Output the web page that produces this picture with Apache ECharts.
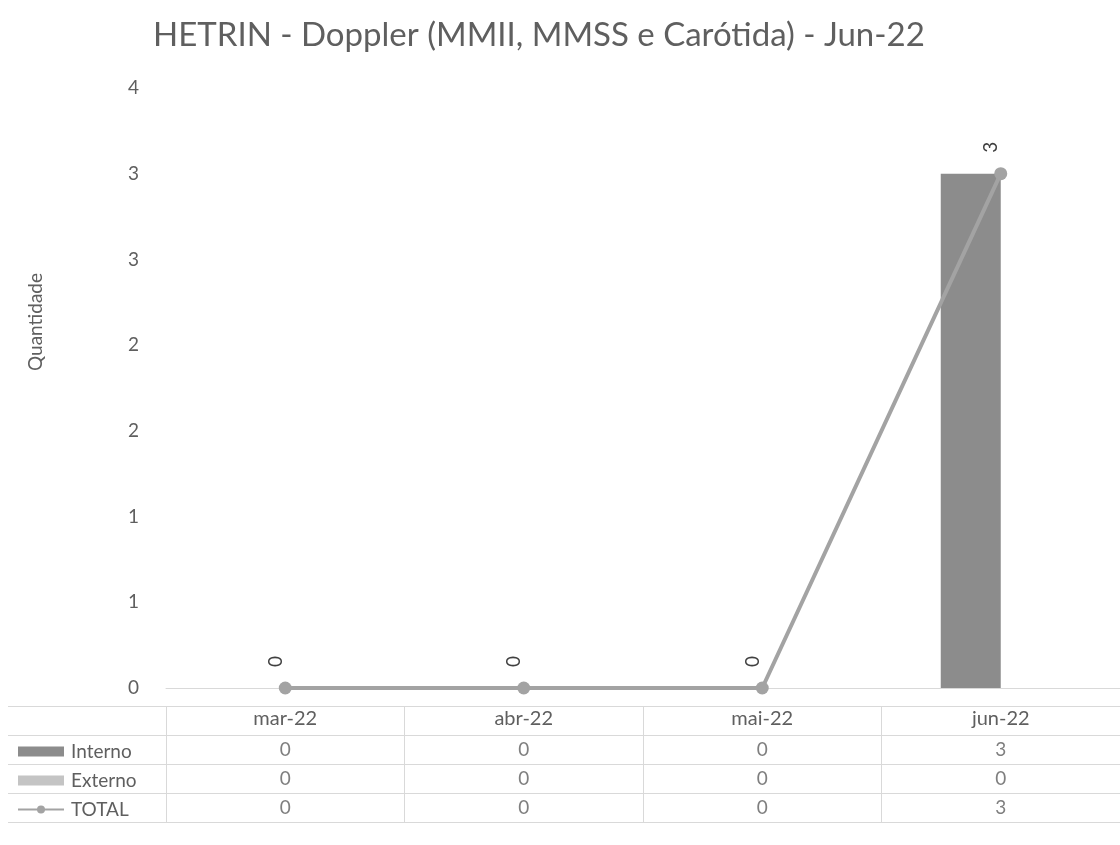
<!DOCTYPE html>
<html>
<head>
<meta charset="utf-8">
<script src="https://cdn.jsdelivr.net/npm/echarts@6/dist/echarts.min.js"></script>
<style>html,body{margin:0;padding:0;background:#fff;}#c{width:1120px;height:845px;}</style>
</head>
<body>
<div id="c"></div>
<script>
const titleText = 'HETRIN - Doppler (MMII, MMSS e Carótida) - Jun-22';
const categories = ['mar-22', 'abr-22', 'mai-22', 'jun-22'];
const interno = [0, 0, 0, 3];
const externo = [0, 0, 0, 0];
const total = [0, 0, 0, 3];
const seriesNames = ['Interno', 'Externo', 'TOTAL'];
const tableRows = [interno, externo, total];

const FONT = 'Lato';
const TXT = '#5f5f5f';

const tableData = [];
tableRows.forEach((row, r) => {
  row.forEach((v, i) => tableData.push([i, r + 1, v]));
});

const chart = echarts.init(document.getElementById('c'));
chart.setOption({
  backgroundColor: '#ffffff',
  animation: false,
  textStyle: { fontFamily: FONT },
  title: {
    text: titleText, left: 148, top: 14,
    textStyle: { fontFamily: FONT, fontSize: 33, fontWeight: 'normal', color: TXT }
  },
  legend: {
    data: [
      { name: seriesNames[0], icon: 'rect' },
      { name: seriesNames[1], icon: 'rect' },
      { name: seriesNames[2] }
    ],
    orient: 'vertical', left: 12, top: 737,
    itemWidth: 46, itemHeight: 10, itemGap: 10,
    textStyle: { fontFamily: FONT, fontSize: 19, lineHeight: 19, color: TXT, padding: [0, 0, 0, 2] }
  },
  grid: [
    { left: 166, width: 962, top: 88, bottom: 157 },
    { left: 166, width: 962, top: 706, height: 116 }
  ],
  xAxis: [
    {
      type: 'category', gridIndex: 0, data: categories,
      axisLine: { show: true, lineStyle: { color: '#d9d9d9', width: 1 } },
      axisTick: { show: false },
      axisLabel: { margin: 21, fontFamily: FONT, fontSize: 20, color: TXT },
      splitLine: { show: false }
    },
    {
      type: 'category', gridIndex: 1, data: categories,
      axisLine: { show: false }, axisTick: { show: false }, axisLabel: { show: false },
      splitLine: { show: true, interval: 0, lineStyle: { color: '#d9d9d9', width: 1 } }
    }
  ],
  yAxis: [
    {
      type: 'value', gridIndex: 0, min: 0, max: 3.5, interval: 0.5,
      name: 'Quantidade', nameLocation: 'middle', nameGap: 121, nameRotate: 90,
      nameTextStyle: { fontFamily: FONT, fontSize: 19, color: TXT, padding: [0, 0, 0, 132] },
      axisLine: { show: false }, axisTick: { show: false },
      axisLabel: { margin: 27, fontFamily: FONT, fontSize: 19, color: TXT,
        formatter: v => String(Math.round(v)) },
      splitLine: { show: false }
    },
    {
      type: 'category', gridIndex: 1, inverse: true, data: ['', 'Interno', 'Externo', 'TOTAL'],
      axisLine: { show: false }, axisLabel: { show: false },
      axisTick: { show: true, interval: 0, length: 158, lineStyle: { color: '#d9d9d9' } },
      splitLine: { show: true, interval: 0, lineStyle: { color: '#d9d9d9', width: 1 } }
    }
  ],
  series: [
    {
      name: 'Interno', type: 'bar', xAxisIndex: 0, yAxisIndex: 0, data: interno,
      barWidth: 60, barGap: '0%',
      itemStyle: { color: '#8c8c8c' }
    },
    {
      name: 'Externo', type: 'bar', xAxisIndex: 0, yAxisIndex: 0, data: externo,
      barWidth: 60, barGap: '0%',
      itemStyle: { color: '#c4c4c4' }
    },
    {
      name: 'TOTAL', type: 'line', xAxisIndex: 0, yAxisIndex: 0, data: total,
      smooth: false, symbol: 'circle', symbolSize: 13,
      lineStyle: { color: '#a3a3a3', width: 4 },
      itemStyle: { color: '#a3a3a3' },
      label: { show: true, position: 'top', distance: 20, rotate: 90,
        fontFamily: FONT, fontSize: 19, color: '#404040' },
      z: 5
    },
    {
      type: 'scatter', xAxisIndex: 1, yAxisIndex: 1, data: tableData,
      symbolSize: 0, silent: true, tooltip: { show: false },
      label: { show: true, position: 'inside', formatter: p => String(p.value[2]),
        fontFamily: FONT, fontSize: 19, color: TXT }
    }
  ]
});
</script>
</body>
</html>
